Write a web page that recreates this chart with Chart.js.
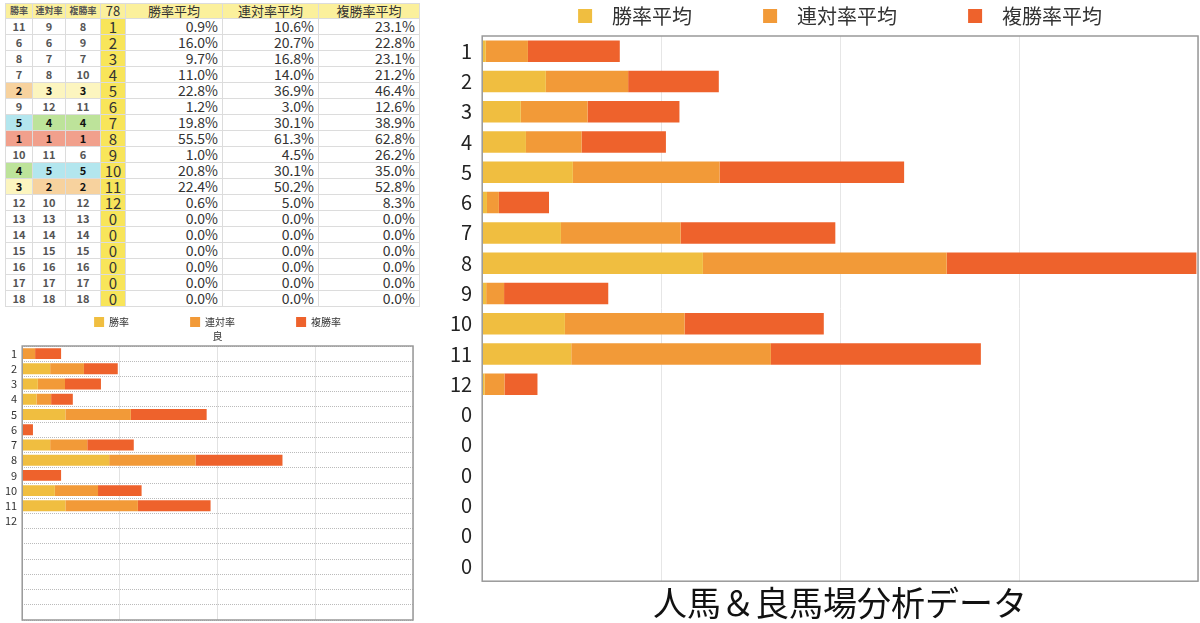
<!DOCTYPE html>
<html>
<head>
<meta charset="utf-8">
<script src="https://cdn.jsdelivr.net/npm/chart.js@4"></script>
<style>
  body { margin: 0; background: #fff; width: 1200px; height: 623px; overflow: hidden; position: relative; }
  #tbl { position: absolute; left: 5px; top: 3px; border-collapse: collapse; table-layout: fixed; width: 414px;
         font-family: "Noto Sans CJK JP", "Noto Sans", sans-serif; color: #333; }
  #tbl td { border: 1px solid #dcdcdc; padding: 0; height: 15px; line-height: 15px; overflow: hidden; white-space: nowrap; }
  #tbl tr.head td { height: 14px; line-height: 14px; background: #fbf09c; text-align: center; font-size: 13px; }
  #tbl tr.head td.rk { font-size: 9px; font-weight: bold; }
  #tbl td.rk { text-align: center; font-size: 11px; font-weight: bold; color: #555; }
  #tbl td.no { text-align: center; font-size: 15px; background: #f8e55a; color: #333; }
  #tbl td.pc { text-align: right; font-size: 14px; padding-right: 4px; }
  #small { position: absolute; left: 0; top: 312px; }
  #big { position: absolute; left: 440px; top: 0; }
  canvas { display: block; }
</style>
</head>
<body>
<table id="tbl"></table>
<div id="small"><canvas id="smallChart" width="420" height="311"></canvas></div>
<div id="big"><canvas id="bigChart" width="760" height="623"></canvas></div>
<script>
// table columns
const horseNo   = [1, 2, 3, 4, 5, 6, 7, 8, 9, 10, 11, 12, 0, 0, 0, 0, 0, 0];
const winRank   = [11, 6, 8, 7, 2, 9, 5, 1, 10, 4, 3, 12, 13, 14, 15, 16, 17, 18];
const rentaiRank= [9, 6, 7, 8, 3, 12, 4, 1, 11, 5, 2, 10, 13, 14, 15, 16, 17, 18];
const fukuRank  = [8, 9, 7, 10, 3, 11, 4, 1, 6, 5, 2, 12, 13, 14, 15, 16, 17, 18];
const winAvg    = [0.9, 16.0, 9.7, 11.0, 22.8, 1.2, 19.8, 55.5, 1.0, 20.8, 22.4, 0.6, 0, 0, 0, 0, 0, 0];
const rentaiAvg = [10.6, 20.7, 16.8, 14.0, 36.9, 3.0, 30.1, 61.3, 4.5, 30.1, 50.2, 5.0, 0, 0, 0, 0, 0, 0];
const fukuAvg   = [23.1, 22.8, 23.1, 21.2, 46.4, 12.6, 38.9, 62.8, 26.2, 35.0, 52.8, 8.3, 0, 0, 0, 0, 0, 0];
const headers   = ['勝率', '連対率', '複勝率', '78', '勝率平均', '連対率平均', '複勝率平均'];

// small chart (良)
const smallLabels = ['1', '2', '3', '4', '5', '6', '7', '8', '9', '10', '11', '12', '', '', '', '', '', ''];
const smallWin    = [0, 14.3, 8.0, 7.3, 22.1, 0, 14.3, 44.5, 0, 16.7, 22.1, 0, 0, 0, 0, 0, 0, 0];
const smallRentai = [6.6, 17.3, 13.9, 7.5, 33.5, 0, 19.0, 44.2, 0, 22.1, 37.1, 0, 0, 0, 0, 0, 0, 0];
const smallFuku   = [13.3, 17.3, 18.4, 11.1, 38.8, 5.5, 23.8, 44.5, 19.9, 22.3, 37.2, 0, 0, 0, 0, 0, 0, 0];

const cYellow = '#f0be40', cOrange = '#f29a38', cRed = '#ee622c';
const rankColor = {1: '#f1a08c', 2: '#f7d29e', 3: '#fcf5bf', 4: '#bde39a', 5: '#b3e6ee'};

// --- table ---
const tbl = document.getElementById('tbl');
const widths = [27, 33, 35, 25, 97, 96, 101];
let cg = '<colgroup>' + widths.map(w => '<col style="width:' + w + 'px">').join('') + '</colgroup>';
let html = cg + '<tr class="head">';
headers.forEach((h, i) => {
  let cls = i < 3 ? 'rk' : (i === 3 ? 'no' : '');
  html += '<td class="' + cls + '">' + h + '</td>';
});
html += '</tr>';
function rankCell(r){
  let bg = rankColor[r] ? ' style="background:' + rankColor[r] + ';color:#111"' : '';
  return '<td class="rk"' + bg + '>' + r + '</td>';
}
for (let i = 0; i < horseNo.length; i++) {
  html += '<tr>' + rankCell(winRank[i]) + rankCell(rentaiRank[i]) + rankCell(fukuRank[i]) +
    '<td class="no">' + horseNo[i] + '</td>' +
    '<td class="pc">' + winAvg[i].toFixed(1) + '%</td>' +
    '<td class="pc">' + rentaiAvg[i].toFixed(1) + '%</td>' +
    '<td class="pc">' + fukuAvg[i].toFixed(1) + '%</td></tr>';
}
tbl.innerHTML = html;

// --- charts ---
Chart.defaults.font.family = '"Noto Sans CJK JP", "Noto Sans", sans-serif';
Chart.defaults.color = '#333';

const frame = {
  id: 'frame',
  afterDraw(chart, args, opts) {
    const a = chart.chartArea, c = chart.ctx;
    c.save();
    c.strokeStyle = opts.color;
    c.lineWidth = opts.width;
    c.strokeRect(a.left, a.top, a.right - a.left, a.bottom - a.top);
    c.restore();
  }
};

function spacedLabels(lead, gap){
  return function(chart){
    const items = Chart.defaults.plugins.legend.labels.generateLabels(chart);
    items.forEach((it, i) => {
      it.text = lead + it.text + (i < items.length - 1 ? gap : '');
    });
    return items;
  };
}

new Chart(document.getElementById('smallChart'), {
  type: 'bar',
  data: {
    labels: smallLabels,
    datasets: [
      { label: '勝率', data: smallWin, backgroundColor: cYellow },
      { label: '連対率', data: smallRentai, backgroundColor: cOrange },
      { label: '複勝率', data: smallFuku, backgroundColor: cRed }
    ]
  },
  options: {
    indexAxis: 'y',
    responsive: false,
    animation: false,
    layout: { padding: { left: 0, right: 7, top: 4, bottom: 3 } },
    datasets: { bar: { categoryPercentage: 1, barPercentage: 0.72 } },
    scales: {
      x: { stacked: true, min: 0, max: 200, ticks: { display: false, stepSize: 50 },
           grid: { color: '#e2e2e2', drawTicks: false }, border: { display: false } },
      y: { stacked: true, ticks: { font: { size: 11 }, color: '#333', padding: 5, autoSkip: false },
           grid: { color: '#bbb', drawTicks: false },
           border: { display: false, dash: [1, 1] },
           afterFit(s) { s.paddingTop = 0; s.paddingBottom = 0; } }
    },
    plugins: {
      legend: { fullSize: false,
                labels: { boxWidth: 10, boxHeight: 10, padding: 1, font: { size: 10 },
                          generateLabels: spacedLabels('', '\u2003\u2003\u2003\u2003\u2003\u2003') } },
      title: { display: true, fullSize: false, text: '良', font: { size: 10, weight: 'normal' },
               padding: { top: -7, bottom: 4 }, weight: 500 },
      tooltip: { enabled: false },
      frame: { color: '#999', width: 1.5 }
    }
  },
  plugins: [frame]
});

new Chart(document.getElementById('bigChart'), {
  type: 'bar',
  data: {
    labels: horseNo.map(String),
    datasets: [
      { label: '勝率平均', data: winAvg, backgroundColor: cYellow },
      { label: '連対率平均', data: rentaiAvg, backgroundColor: cOrange },
      { label: '複勝率平均', data: fukuAvg, backgroundColor: cRed }
    ]
  },
  options: {
    indexAxis: 'y',
    responsive: false,
    animation: false,
    layout: { padding: { left: 0, right: 2 } },
    datasets: { bar: { categoryPercentage: 1, barPercentage: 0.71 } },
    scales: {
      x: { stacked: true, min: 0, max: 180, ticks: { display: false, stepSize: 45 },
           grid: { color: '#e6e6e6', drawTicks: false }, border: { display: false } },
      y: { stacked: true, ticks: { font: { size: 20 }, color: '#222', padding: 10 },
           grid: { display: false, drawTicks: false }, border: { display: false } }
    },
    plugins: {
      legend: { fullSize: false,
                labels: { boxWidth: 14, boxHeight: 14, padding: 6, font: { size: 20 }, color: '#333',
                          generateLabels: spacedLabels('\u2002', '\u2003\u2003\u2003\u2005') } },
      title: { display: true, fullSize: false, position: 'bottom', text: '人馬＆良馬場分析データ',
               font: { size: 34, weight: 'normal' }, color: '#111', padding: { top: 1, bottom: 0 } },
      tooltip: { enabled: false },
      frame: { color: '#999', width: 1.5 }
    }
  },
  plugins: [frame]
});
</script>
</body>
</html>
